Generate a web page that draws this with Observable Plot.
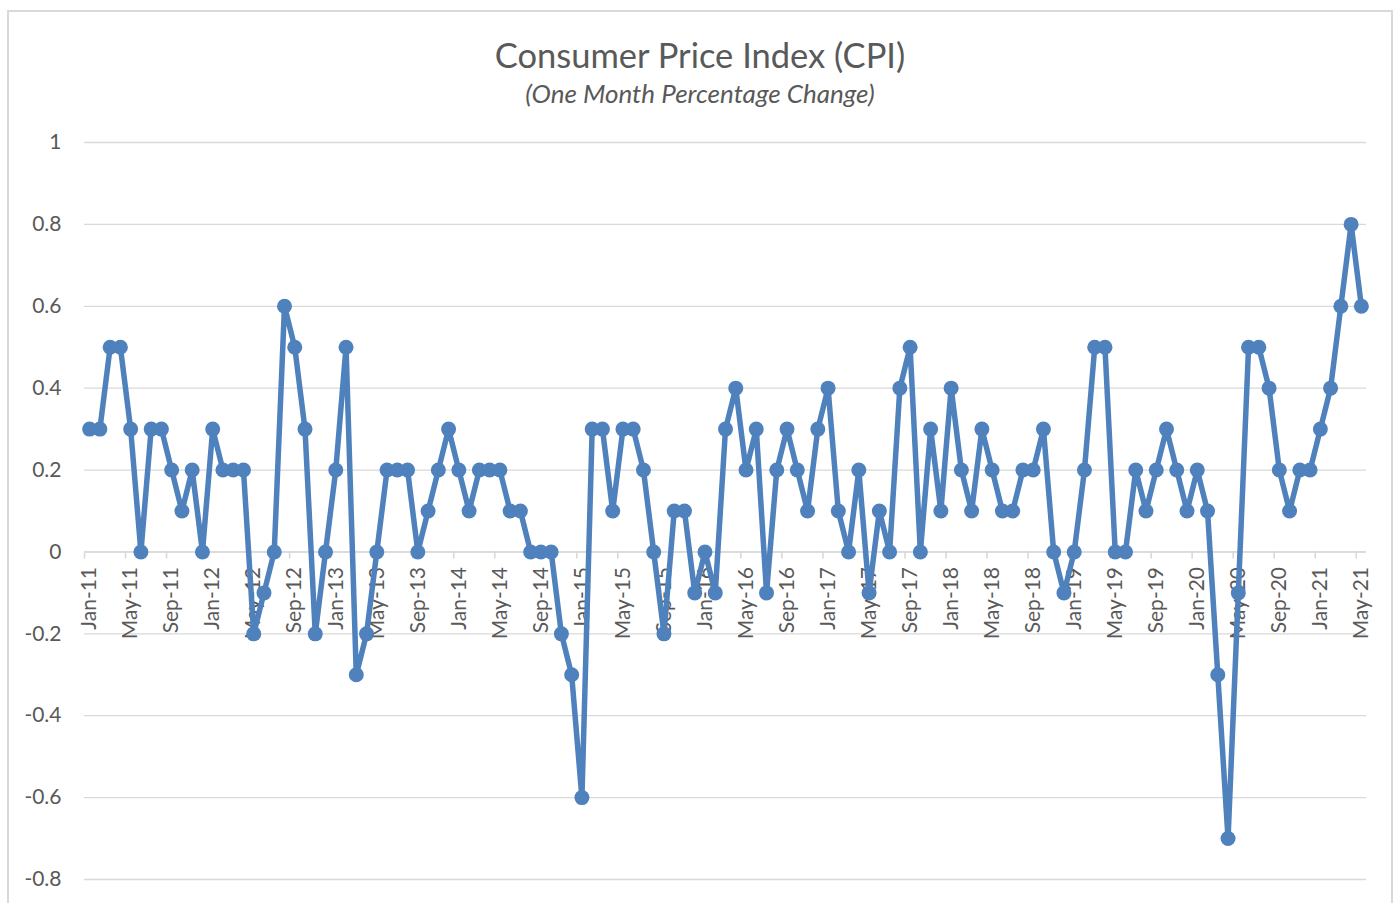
<!DOCTYPE html>
<html>
<head>
<meta charset="utf-8">
<script src="https://cdn.jsdelivr.net/npm/d3@7"></script>
<script src="https://cdn.jsdelivr.net/npm/@observablehq/plot@0.6"></script>
<style>
  html, body { margin: 0; padding: 0; background: #fff; }
  #wrap { position: relative; width: 1400px; height: 903px; overflow: hidden; font-family: Lato, "Open Sans", sans-serif; }
  #frame { position: absolute; left: 7px; top: 10px; width: 1386px; height: 920px; border: 2px solid #d9d9d9; box-sizing: border-box; }
  #title { position: absolute; left: 0; width: 1400px; top: 36px; text-align: center; font-size: 34.5px; line-height: 38px; color: #595959; }
  #subtitle { position: absolute; left: 0; width: 1400px; top: 78px; text-align: center; font-size: 26px; line-height: 30px; font-style: italic; color: #595959; }
  #chart { position: absolute; left: 0; top: 110px; }
</style>
</head>
<body>
<div id="wrap">
  <div id="frame"></div>
  <div id="title">Consumer Price Index (CPI)</div>
  <div id="subtitle">(One Month Percentage Change)</div>
  <div id="chart"></div>
</div>
<script>
// Monthly CPI percentage change, Jan 2011 – May 2021
const y2011 = [0.3, 0.3, 0.5, 0.5, 0.3, 0.0, 0.3, 0.3, 0.2, 0.1, 0.2, 0.0];
const y2012 = [0.3, 0.2, 0.2, 0.2, -0.2, -0.1, 0.0, 0.6, 0.5, 0.3, -0.2, 0.0];
const y2013 = [0.2, 0.5, -0.3, -0.2, 0.0, 0.2, 0.2, 0.2, 0.0, 0.1, 0.2, 0.3];
const y2014 = [0.2, 0.1, 0.2, 0.2, 0.2, 0.1, 0.1, 0.0, 0.0, 0.0, -0.2, -0.3];
const y2015 = [-0.6, 0.3, 0.3, 0.1, 0.3, 0.3, 0.2, 0.0, -0.2, 0.1, 0.1, -0.1];
const y2016 = [0.0, -0.1, 0.3, 0.4, 0.2, 0.3, -0.1, 0.2, 0.3, 0.2, 0.1, 0.3];
const y2017 = [0.4, 0.1, 0.0, 0.2, -0.1, 0.1, 0.0, 0.4, 0.5, 0.0, 0.3, 0.1];
const y2018 = [0.4, 0.2, 0.1, 0.3, 0.2, 0.1, 0.1, 0.2, 0.2, 0.3, 0.0, -0.1];
const y2019 = [0.0, 0.2, 0.5, 0.5, 0.0, 0.0, 0.2, 0.1, 0.2, 0.3, 0.2, 0.1];
const y2020 = [0.2, 0.1, -0.3, -0.7, -0.1, 0.5, 0.5, 0.4, 0.2, 0.1, 0.2, 0.2];
const y2021 = [0.3, 0.4, 0.6, 0.8, 0.6];

const years = ["11", "12", "13", "14", "15", "16", "17", "18", "19", "20", "21"];
const monthNames = ["Jan", "Feb", "Mar", "Apr", "May", "Jun", "Jul", "Aug", "Sep", "Oct", "Nov", "Dec"];
const yTicks = [-0.8, -0.6, -0.4, -0.2, 0, 0.2, 0.4, 0.6, 0.8, 1];
const labelEvery = 4;

const series = [y2011, y2012, y2013, y2014, y2015, y2016, y2017, y2018, y2019, y2020, y2021];
const data = [];
series.forEach((vals, yi) => {
  vals.forEach((v, mi) => {
    data.push({i: data.length, label: `${monthNames[mi]}-${years[yi]}`, value: v});
  });
});
const n = data.length;
const labelled = data.filter(d => d.i % labelEvery === 0);
const boundaries = labelled.map(d => d.i - 0.5);

const blue = "#4f81bd";
const grey = "#d9d9d9";
const textColor = "#595959";

const chart = Plot.plot({
  width: 1400,
  height: 793,
  marginLeft: 84,
  marginRight: 34,
  marginTop: 32,
  marginBottom: 24,
  style: {fontFamily: "Lato, 'Open Sans', sans-serif", fontSize: "21px", color: textColor, background: "transparent"},
  x: {type: "linear", domain: [-0.5, n - 0.5], axis: null},
  y: {domain: [-0.8, 1], axis: null},
  marks: [
    Plot.gridY(yTicks, {stroke: grey, strokeOpacity: 1, strokeWidth: 1.3}),
    Plot.axisY(yTicks, {tickSize: 0, tickPadding: 23, tickFormat: d => String(d), fontSize: 21, fill: textColor, label: null}),
    Plot.ruleY([0], {stroke: grey, strokeWidth: 1.6}),
    Plot.ruleX(boundaries, {x: d => d, y1: 0, y2: 0, insetBottom: -7, stroke: grey, strokeWidth: 1.6}),
    Plot.text(labelled, {x: "i", y: 0, text: "label", rotate: -90, textAnchor: "end", dy: 15, fontSize: 21, fill: textColor}),
    Plot.line(data, {x: "i", y: "value", stroke: blue, strokeWidth: 5.5, strokeLinejoin: "round"}),
    Plot.dot(data, {x: "i", y: "value", r: 7.5, fill: blue, stroke: "none"})
  ]
});
document.getElementById("chart").appendChild(chart);
</script>
</body>
</html>
